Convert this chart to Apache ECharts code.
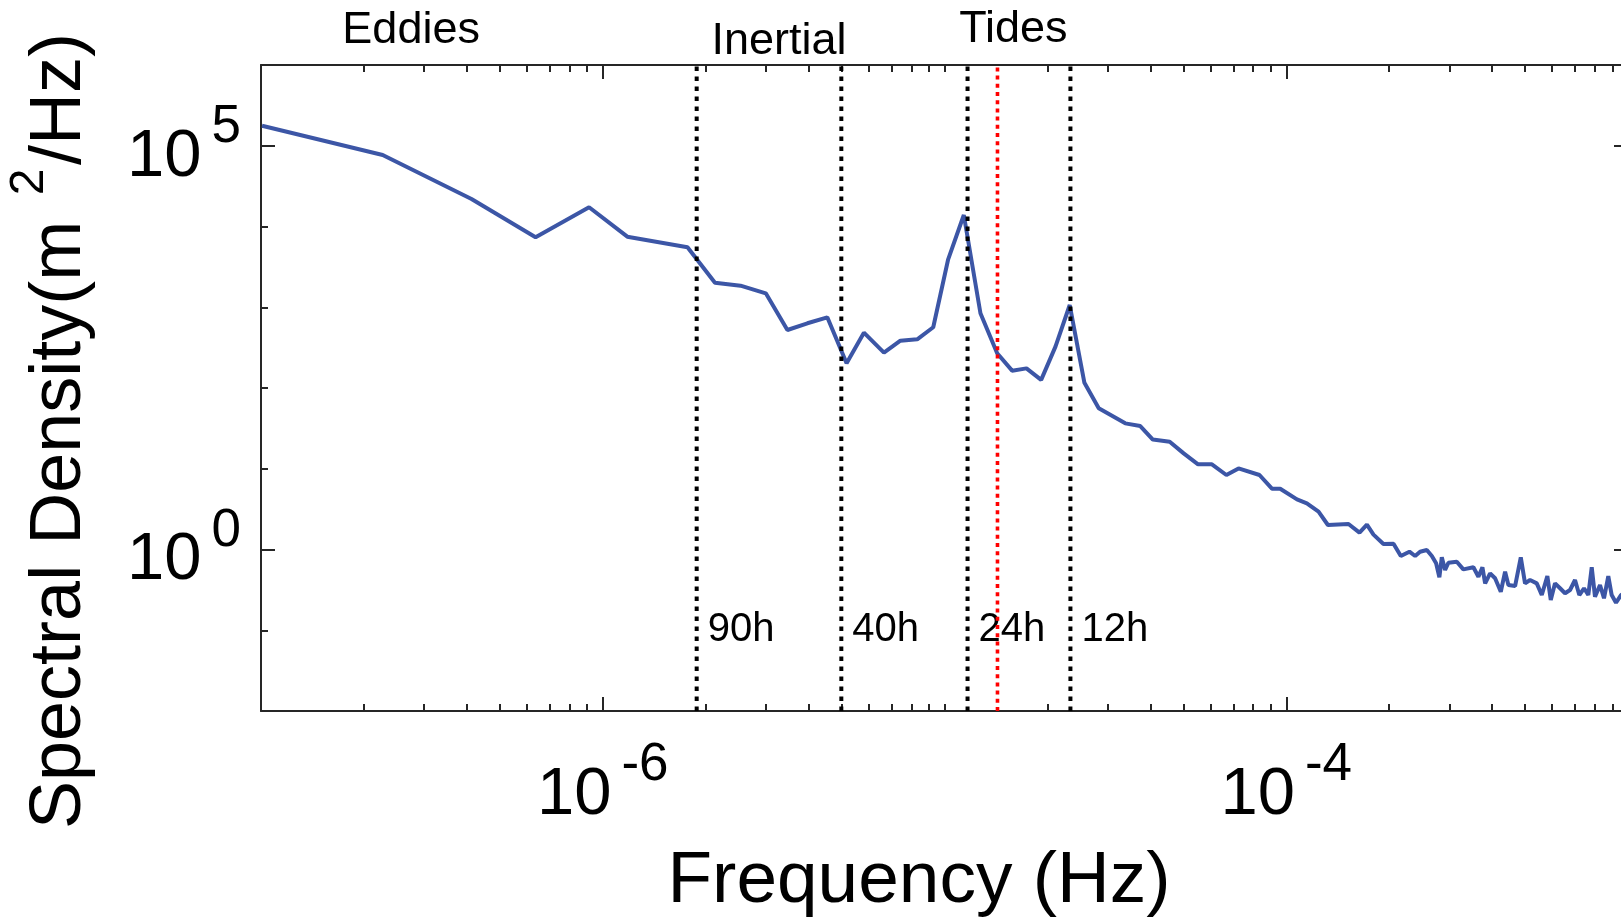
<!DOCTYPE html>
<html><head><meta charset="utf-8">
<script src="https://cdn.jsdelivr.net/npm/echarts@6/dist/echarts.min.js"></script>
<style>html,body{margin:0;padding:0;background:#fff;overflow:hidden}#chart{width:1621px;height:918px}</style>
</head><body><div id="chart"></div>
<script>
// ---- data ----
const freq = [1.007e-7, 2.27e-7, 4.13e-7, 6.36e-7, 9.12e-7, 1.18e-6, 1.77e-6, 2.13e-6, 2.53e-6, 3.00e-6,
  3.47e-6, 3.97e-6, 4.54e-6, 5.17e-6, 5.81e-6, 6.65e-6, 7.43e-6, 8.32e-6, 9.27e-6, 1.025e-5,
  1.139e-5, 1.274e-5, 1.426e-5, 1.577e-5, 1.737e-5, 1.918e-5, 2.112e-5, 2.325e-5, 2.567e-5, 2.827e-5,
  3.38e-5, 3.74e-5, 4.07e-5, 4.56e-5, 5.01e-5, 5.52e-5, 6.06e-5, 6.68e-5, 7.25e-5, 8.35e-5,
  9.08e-5, 9.60e-5, 1.075e-4, 1.149e-4, 1.243e-4, 1.324e-4, 1.521e-4, 1.638e-4, 1.722e-4, 1.80e-4,
  1.925e-4, 2.06e-4, 2.164e-4, 2.293e-4, 2.383e-4, 2.464e-4, 2.578e-4, 2.667e-4, 2.745e-4, 2.806e-4,
  2.852e-4, 2.916e-4, 2.982e-4, 3.155e-4, 3.298e-4, 3.529e-4, 3.650e-4, 3.750e-4, 3.819e-4, 3.949e-4,
  4.084e-4, 4.244e-4, 4.369e-4, 4.467e-4, 4.673e-4, 4.856e-4, 4.997e-4, 5.169e-4, 5.408e-4, 5.594e-4,
  5.808e-4, 5.943e-4, 6.116e-4, 6.327e-4, 6.543e-4, 6.767e-4, 6.998e-4, 7.204e-4, 7.435e-4, 7.654e-4,
  7.832e-4, 8.007e-4, 8.281e-4, 8.507e-4, 8.757e-4, 8.959e-4, 9.224e-4, 9.539e-4, 1.0e-3];
const psd = [1.77e5, 7.68e4, 2.19e4, 7350, 1.73e4, 7475, 5525, 2014, 1849, 1488,
  523, 633, 751, 202, 484, 274, 385, 401, 565, 3925,
  1.388e4, 842, 269, 164, 175, 126, 325, 1066, 116, 56,
  36.5, 33.8, 23, 21.6, 15.5, 11.35, 11.35, 8.37, 10.1, 8.37,
  5.66, 5.66, 4.18, 3.73, 2.94, 2.01, 2.07, 1.615, 2.03, 1.528,
  1.17, 1.18, 0.831, 0.939, 0.831, 0.939, 0.986, 0.831, 0.675, 0.453,
  0.80, 0.557, 0.686, 0.706, 0.568, 0.602, 0.460, 0.602, 0.381, 0.507,
  0.440, 0.300, 0.531, 0.363, 0.353, 0.80, 0.381, 0.419, 0.381, 0.273,
  0.469, 0.237, 0.381, 0.331, 0.287, 0.315, 0.419, 0.273, 0.331, 0.273,
  0.602, 0.260, 0.363, 0.249, 0.469, 0.273, 0.219, 0.273, 0.30];

const periodLineFreqs = [1.883e-6, 4.99e-6, 1.168e-5, 2.336e-5];
const periodLabels = ['90h', '40h', '24h', '12h'];
const redLineFreqs = [1.429e-5];
const periodLabelLevel = 0.1;
const regionNames = ['Eddies', 'Inertial', 'Tides'];
const regionFreqs = [2.75e-7, 3.28e-6, 1.59e-5];
const regionTextY = [31, 42, 30];
const yTitleParts = ['Spectral Density(m', '2', '/Hz)'];
const xRange = [1e-7, 1e-3];
const yRange = [1e-2, 1e6];
const xMajorTicks = [1e-6, 1e-4];
const yMajorTicks = [1, 1e5];
const yMinorTicks = [0.1, 10, 100, 1000, 1e4];
const xMinorTicks = [];
for (let e = -7; e <= -4; e++) {
  for (let m = 1; m <= 9; m++) {
    if (m === 1 && (e === -7 || e === -6 || e === -4)) continue;
    xMinorTicks.push(m * Math.pow(10, e));
  }
}

// ---- chart ----
const FONT = "'Liberation Sans', Arial, Helvetica, sans-serif";
const AX = '#262626';
const chart = echarts.init(document.getElementById('chart'), null, {renderer: 'canvas'});

function expLabel(v) {
  const e = Math.round(Math.log10(v));
  return '{b|10}{s|' + (e < 0 ? '-' + (-e) : String(e)) + '}';
}
const richLab = {
  b: {fontSize: 67, fontFamily: FONT, color: '#000', verticalAlign: 'bottom'},
  s: {fontSize: 53, fontFamily: FONT, color: '#000', verticalAlign: 'bottom', padding: [0, 0, 37, 10]}
};

function axisBase(range, pos) {
  return {
    type: 'log', logBase: 10, min: range[0], max: range[1], position: pos,
    splitLine: {show: false}, minorTick: {show: false}, minorSplitLine: {show: false},
    axisPointer: {show: false}
  };
}
function majorAxis(range, pos, ticks, labelMargin) {
  return Object.assign(axisBase(range, pos), {
    axisLine: {show: true, onZero: false, lineStyle: {color: AX, width: 2}},
    axisTick: {show: true, inside: true, length: 14, customValues: ticks, lineStyle: {color: AX, width: 2}},
    axisLabel: labelMargin != null
      ? {show: true, customValues: ticks, formatter: expLabel, rich: richLab, margin: labelMargin}
      : {show: false}
  });
}
function minorAxis(range, pos, ticks) {
  return Object.assign(axisBase(range, pos), {
    axisLine: {show: false, onZero: false},
    axisTick: {show: true, inside: true, length: 7, customValues: ticks, lineStyle: {color: AX, width: 2}},
    axisLabel: {show: false}
  });
}

const xBottom = majorAxis(xRange, 'bottom', xMajorTicks, 28);
Object.assign(xBottom, {
  name: 'Frequency (Hz)', nameLocation: 'middle', nameGap: 134,
  nameTextStyle: {fontSize: 73, fontFamily: FONT, color: '#000', padding: [0, 51, 0, 0]}
});

function vLine(f, color, width, dash) {
  return {
    type: 'line', xAxisIndex: 0, yAxisIndex: 0, z: 5, silent: true,
    data: [[f, yRange[0]], [f, yRange[1]]],
    symbol: 'none', showSymbol: false,
    lineStyle: {color: color, width: width, type: dash},
    emphasis: {disabled: true}
  };
}

const option = {
  animation: false,
  backgroundColor: '#fff',
  grid: {left: 261, top: 65, width: 1367, height: 646, containLabel: false, outerBoundsMode: 'none'},
  xAxis: [
    xBottom,
    minorAxis(xRange, 'bottom', xMinorTicks),
    majorAxis(xRange, 'top', xMajorTicks, null),
    minorAxis(xRange, 'top', xMinorTicks)
  ],
  yAxis: [
    majorAxis(yRange, 'left', yMajorTicks, 20),
    minorAxis(yRange, 'left', yMinorTicks),
    majorAxis(yRange, 'right', yMajorTicks, null),
    minorAxis(yRange, 'right', yMinorTicks)
  ],
  series: [
    {
      type: 'scatter', xAxisIndex: 0, yAxisIndex: 0, z: 2, silent: true,
      symbolSize: 0, itemStyle: {opacity: 1},
      data: periodLineFreqs.map((f, i) => ({value: [f, periodLabelLevel], name: periodLabels[i]})),
      label: {show: true, position: 'right', distance: 11, formatter: '{b}', fontSize: 40, fontFamily: FONT, color: '#000', opacity: 1}
    },
    {
      type: 'line', xAxisIndex: 0, yAxisIndex: 0, z: 3, silent: true,
      data: freq.map((f, i) => [f, psd[i]]),
      showSymbol: false, symbol: 'none',
      lineStyle: {color: '#3c56a6', width: 4}, clip: true
    }
  ].concat(periodLineFreqs.map(f => vLine(f, '#000', 4, [4.5, 5.5])))
   .concat(redLineFreqs.map(f => vLine(f, '#ff0000', 3.6, [4, 4.2])))
};
chart.setOption(option);

// region labels above the plot, anchored at frequencies through the x axis
const graphics = regionNames.map((name, i) => ({
  type: 'text',
  x: chart.convertToPixel({xAxisIndex: 0}, regionFreqs[i]),
  y: regionTextY[i],
  style: {text: name, font: '45px ' + FONT, fill: '#000', align: 'center', verticalAlign: 'middle'}
}));
// y axis title (rotated, reads bottom to top) with a raised "2"
graphics.push(
  {type: 'text', x: 60, y: 829, rotation: Math.PI / 2,
   style: {text: yTitleParts[0], font: '72px ' + FONT, fill: '#000', align: 'left', verticalAlign: 'middle'}},
  {type: 'text', x: 30, y: 182, rotation: Math.PI / 2,
   style: {text: yTitleParts[1], font: '48px ' + FONT, fill: '#000', align: 'center', verticalAlign: 'middle'}},
  {type: 'text', x: 60, y: 33, rotation: Math.PI / 2,
   style: {text: yTitleParts[2], font: '72px ' + FONT, fill: '#000', align: 'right', verticalAlign: 'middle'}}
);
chart.setOption({graphic: graphics});
</script>
</body></html>
